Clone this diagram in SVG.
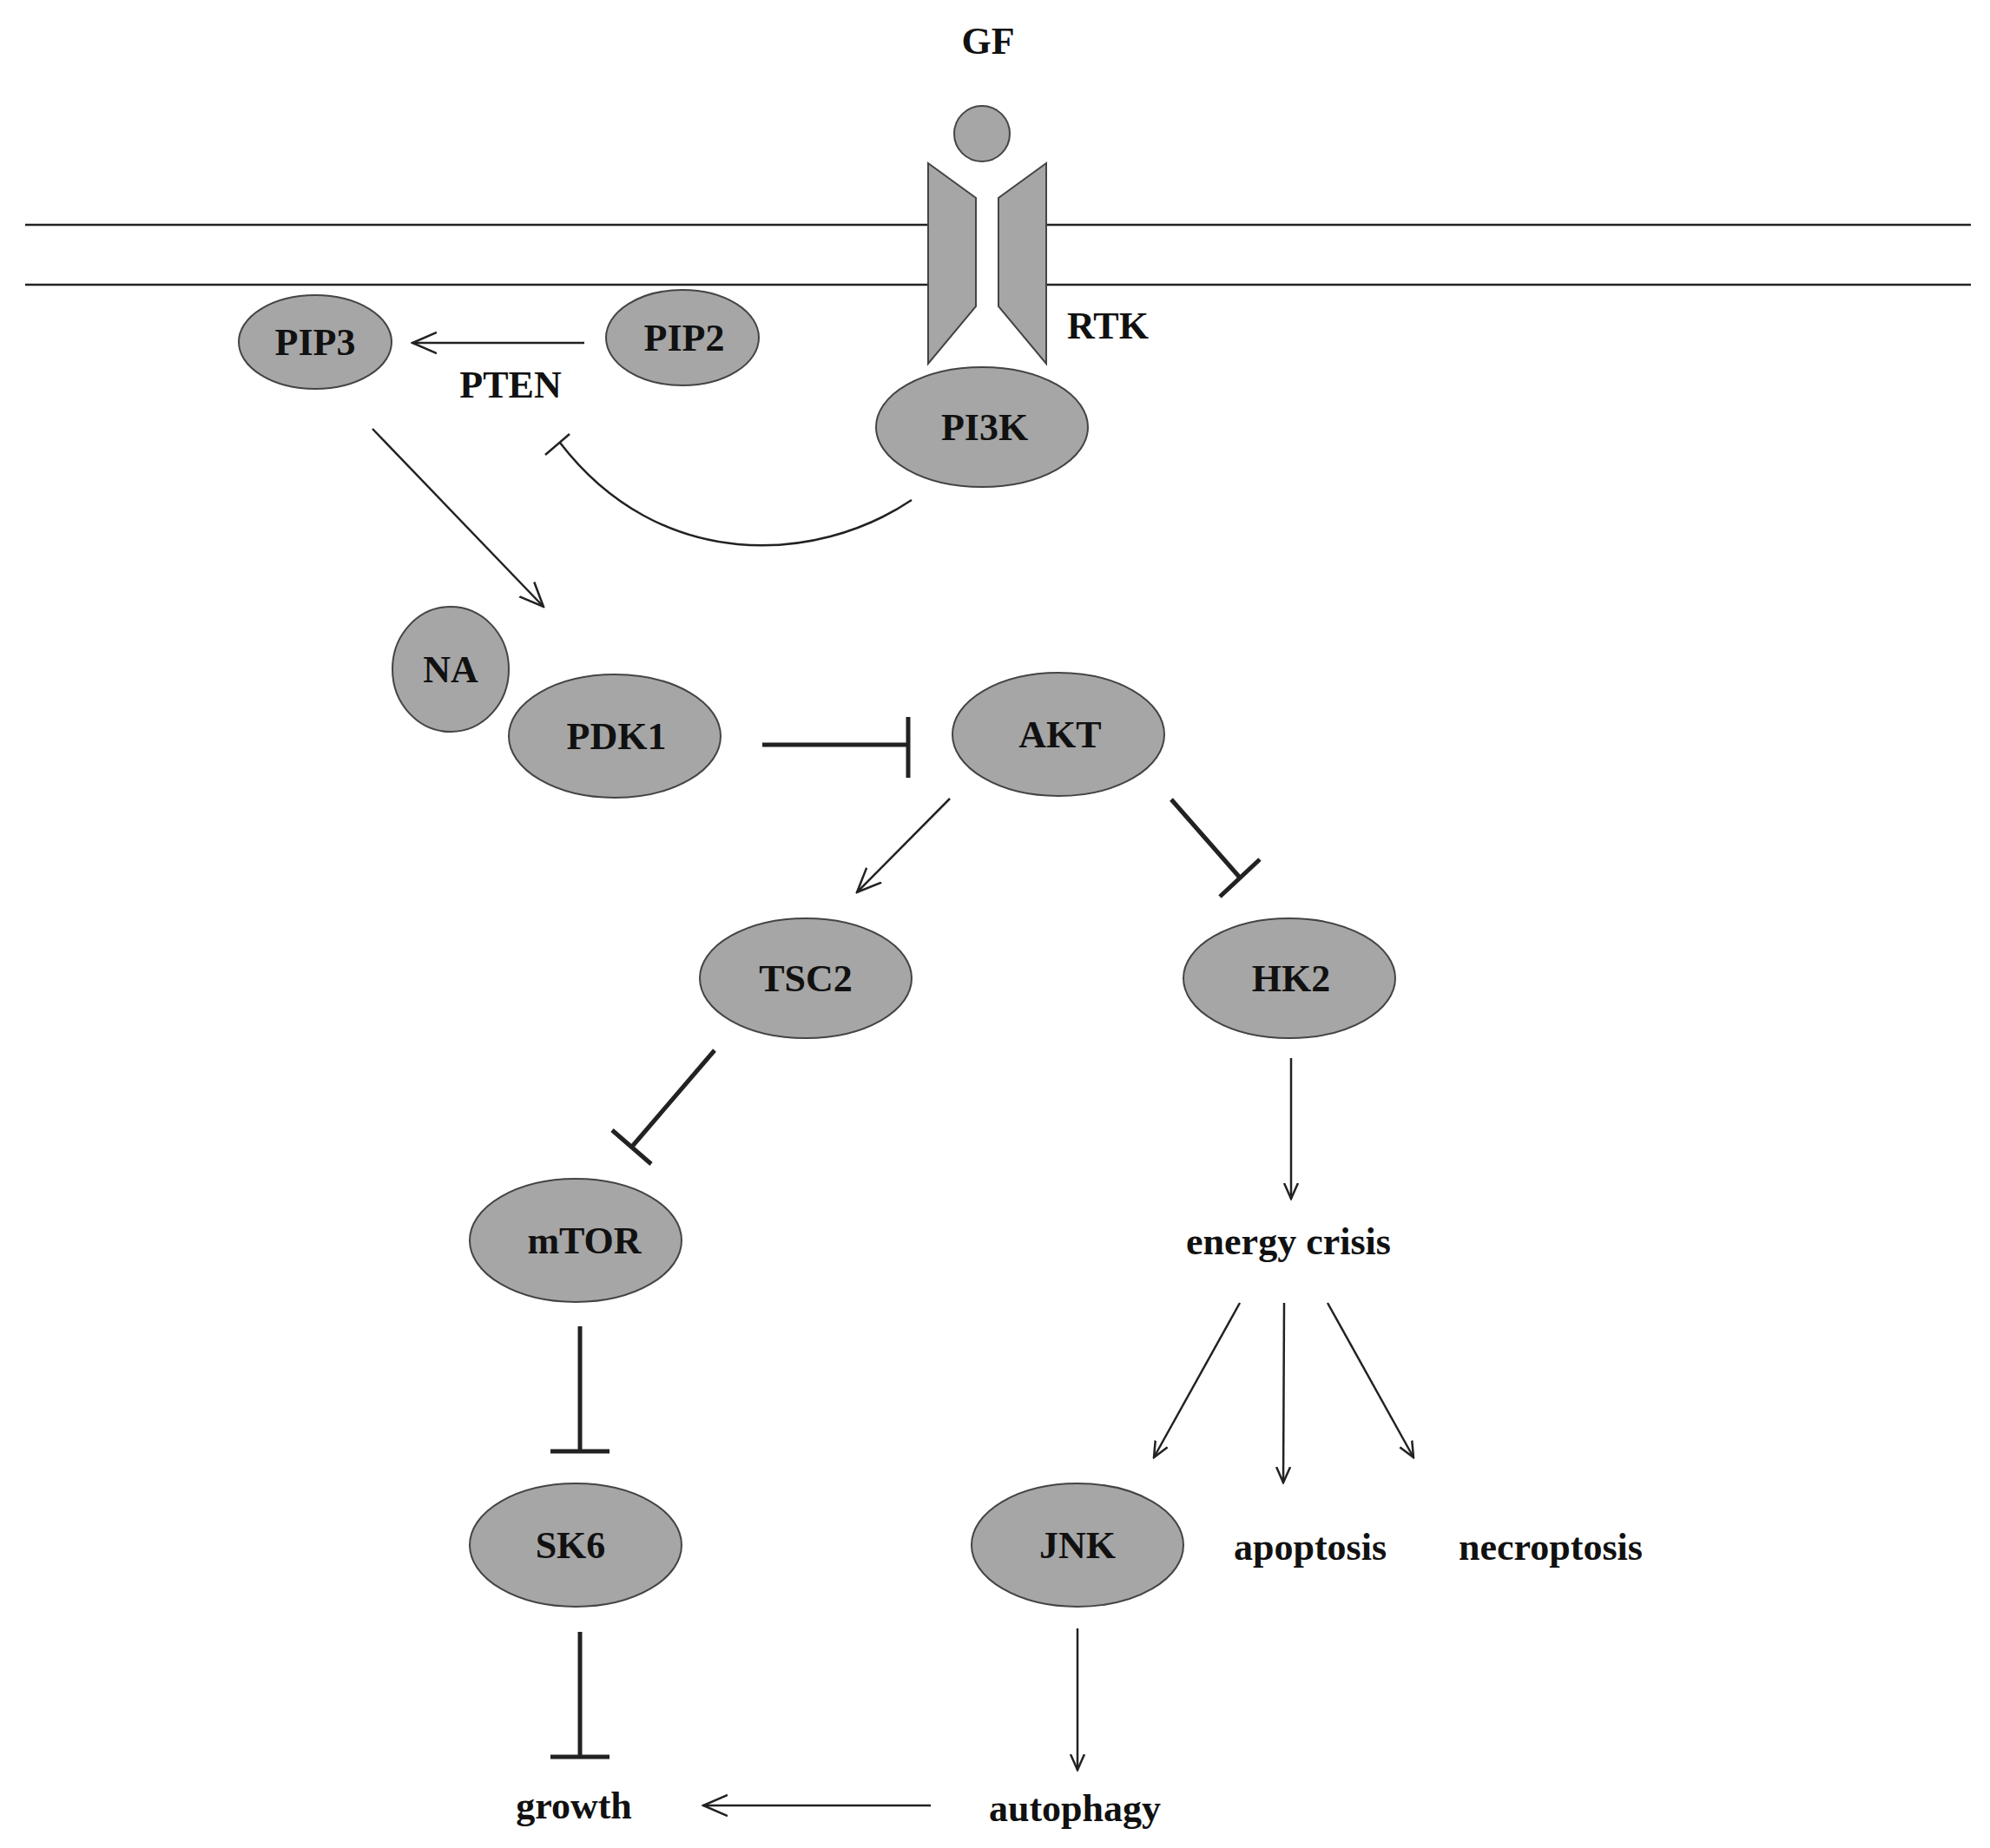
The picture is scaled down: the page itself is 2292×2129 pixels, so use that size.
<svg xmlns="http://www.w3.org/2000/svg" width="2292" height="2129" viewBox="0 0 2292 2129">
<style>
text{font-family:"Liberation Serif","DejaVu Serif",serif;font-weight:bold;font-size:44px;text-anchor:middle;fill:#111}
.n{fill:#a6a6a6;stroke:#444;stroke-width:2}
.c{fill:none;stroke:#222;stroke-width:2.5}
.t{fill:none;stroke:#222;stroke-width:5}
</style>
<defs>
<marker id="a" viewBox="0 0 20 20" refX="18" refY="10" markerWidth="20" markerHeight="20" markerUnits="userSpaceOnUse" orient="auto"><polyline points="0,2 18,10 0,18" fill="none" stroke="#222" stroke-width="2.5"/></marker>
<marker id="a2" viewBox="0 0 30 30" refX="28" refY="15" markerWidth="30" markerHeight="30" markerUnits="userSpaceOnUse" orient="auto"><polyline points="0,3 28,15 0,27" fill="none" stroke="#222" stroke-width="2.5"/></marker>
</defs>
<rect width="2292" height="2129" fill="#fff"/>
<g id="membrane" stroke="#222" stroke-width="2.5">
<line x1="29" y1="259" x2="1069" y2="259"/><line x1="1205" y1="259" x2="2270" y2="259"/>
<line x1="29" y1="328" x2="1069" y2="328"/><line x1="1205" y1="328" x2="2270" y2="328"/>
</g>
<g id="GF"><circle class="n" cx="1131" cy="154" r="32"/><text x="1138" y="62">GF</text></g>
<g id="RTK">
<polygon class="n" points="1069,188 1124,228 1124,353 1069,419"/>
<polygon class="n" points="1205,188 1150,228 1150,353 1205,419"/>
<text x="1276" y="390">RTK</text></g>
<g id="PIP3"><ellipse class="n" cx="363" cy="394" rx="88" ry="54"/><text x="363" y="409">PIP3</text></g>
<g id="PIP2"><ellipse class="n" cx="786" cy="389" rx="88" ry="55"/><text x="788" y="404">PIP2</text></g>
<g id="PTEN"><text x="588" y="458">PTEN</text></g>
<g id="PI3K"><ellipse class="n" cx="1131" cy="492" rx="122" ry="69"/><text x="1134" y="507">PI3K</text></g>
<g id="NA"><ellipse class="n" cx="519" cy="771" rx="67" ry="72"/><text x="519" y="786">NA</text></g>
<g id="PDK1"><ellipse class="n" cx="708" cy="848" rx="122" ry="71"/><text x="710" y="863">PDK1</text></g>
<g id="AKT"><ellipse class="n" cx="1219" cy="846" rx="122" ry="71"/><text x="1221" y="861">AKT</text></g>
<g id="TSC2"><ellipse class="n" cx="928" cy="1127" rx="122" ry="69"/><text x="928" y="1142">TSC2</text></g>
<g id="HK2"><ellipse class="n" cx="1485" cy="1127" rx="122" ry="69"/><text x="1487" y="1142">HK2</text></g>
<g id="mTOR"><ellipse class="n" cx="663" cy="1429" rx="122" ry="71"/><text x="673" y="1444">mTOR</text></g>
<g id="energy"><text x="1484" y="1445">energy crisis</text></g>
<g id="SK6"><ellipse class="n" cx="663" cy="1780" rx="122" ry="71"/><text x="657" y="1795">SK6</text></g>
<g id="JNK"><ellipse class="n" cx="1241" cy="1780" rx="122" ry="71"/><text x="1241" y="1795">JNK</text></g>
<g id="apoptosis"><text x="1509" y="1797">apoptosis</text></g>
<g id="necroptosis"><text x="1786" y="1797">necroptosis</text></g>
<g id="growth"><text x="661" y="2095">growth</text></g>
<g id="autophagy"><text x="1238" y="2098">autophagy</text></g>
<g id="connectors">
<line class="c" x1="673" y1="395" x2="475" y2="395" marker-end="url(#a2)"/>
<path class="c" d="M1050,576 C940,650 760,660 645,510"/>
<line class="c" x1="628" y1="524" x2="656" y2="500"/>
<line class="c" x1="429" y1="494" x2="626" y2="699" marker-end="url(#a2)"/>
<line class="t" x1="878" y1="858" x2="1046" y2="858"/><line class="t" x1="1046" y1="826" x2="1046" y2="896"/>
<line class="c" x1="1094" y1="920" x2="987" y2="1028" marker-end="url(#a2)"/>
<line class="t" x1="1349" y1="921" x2="1428" y2="1011"/><line class="t" x1="1405" y1="1033" x2="1451" y2="990"/>
<line class="t" x1="823" y1="1210" x2="727" y2="1322"/><line class="t" x1="705" y1="1302" x2="750" y2="1341"/>
<line class="c" x1="1487" y1="1219" x2="1487" y2="1381" marker-end="url(#a)"/>
<line class="t" x1="668" y1="1528" x2="668" y2="1672"/><line class="t" x1="634" y1="1672" x2="702" y2="1672"/>
<line class="c" x1="1428" y1="1501" x2="1329" y2="1679" marker-end="url(#a)"/>
<line class="c" x1="1479" y1="1501" x2="1478" y2="1708" marker-end="url(#a)"/>
<line class="c" x1="1529" y1="1501" x2="1628" y2="1679" marker-end="url(#a)"/>
<line class="t" x1="668" y1="1880" x2="668" y2="2024"/><line class="t" x1="634" y1="2024" x2="702" y2="2024"/>
<line class="c" x1="1241" y1="1876" x2="1241" y2="2039" marker-end="url(#a)"/>
<line class="c" x1="1072" y1="2080" x2="810" y2="2080" marker-end="url(#a2)"/>
</g>
</svg>
